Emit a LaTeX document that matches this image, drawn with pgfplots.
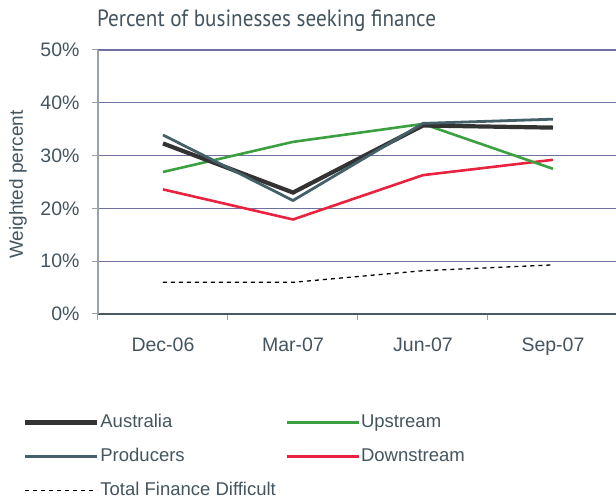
\documentclass[border=0pt]{standalone}
\usepackage{pgfplots}
\pgfplotsset{compat=1.18}
\usepackage{fontspec}
\setmainfont{Liberation Sans}
\newfontfamily\titlefont[FakeStretch=0.9]{PT Sans}
\definecolor{txt}{HTML}{44555F}
\definecolor{gridc}{RGB}{112,112,160}
\definecolor{axc}{HTML}{9AA2A8}
\definecolor{axb}{HTML}{4A5A62}
\definecolor{aus}{HTML}{333333}
\definecolor{prod}{HTML}{46606A}
\definecolor{up}{HTML}{3AA040}
\definecolor{down}{HTML}{E8223F}
\begin{document}
\begin{tikzpicture}
\begin{axis}[
  at={(0,0)}, anchor=south west,
  scale only axis, width=520pt, height=264pt,
  xmin=-0.5, xmax=3.5, ymin=0, ymax=50,
  axis x line*=bottom, axis y line*=left,
  y axis line style={color=axc, line width=1.2pt},
  x axis line style={color=axb, line width=1.2pt},
  xtick={0,1,2,3},
  xticklabels={Dec-06,Mar-07,Jun-07,Sep-07},
  minor xtick={-0.5,0.5,1.5,2.5},
  major x tick style={draw=none},
  minor x tick style={color=axc, line width=1pt},
  tick align=outside,
  minor tick length=6pt,
  ytick={0,10,20,30,40,50},
  yticklabels={0\%,10\%,20\%,30\%,40\%,50\%},
  major y tick style={color=axc, line width=1pt},
  major tick length=6pt,
  ymajorgrids,
  grid style={color=gridc, line width=1.2pt},
  ticklabel style={font=\fontsize{19.5}{22}\selectfont, text=txt},
  xticklabel style={yshift=-14pt},
  yticklabel style={xshift=-9pt},
  ylabel={Weighted percent},
  ylabel style={font=\fontsize{19}{22}\selectfont, text=txt, at={(axis description cs:-0.154,0.49)}, anchor=center},
  title={\titlefont Percent of businesses seeking finance},
  title style={font=\fontsize{23.5}{26}\selectfont, text=txt, at={(axis description cs:-0.002,1.047)}, anchor=south west, inner sep=0pt},
  legend style={at={(axis description cs:-0.150,-0.367)}, anchor=north west, draw=none, fill=none,
    font=\fontsize{18.5}{20}\selectfont, text=txt, row sep=15pt,
    nodes={inner sep=1pt, text height=13pt, text depth=4pt},
    /tikz/every odd column/.append style={column sep=0pt}},
  legend columns=2,
  legend cell align=left,
  legend image code/.code={\draw[#1] (0pt,0pt) -- (72pt,0pt);},
  clip=false,
]
\addplot[black, line width=1.3pt, dash pattern=on 4pt off 4pt, forget plot] coordinates {(0,6.0) (1,6.0) (2,8.2) (3,9.3)};
\addplot[down, line width=2.6pt, forget plot] coordinates {(0,23.6) (1,17.9) (2,26.3) (3,29.2)};
\addplot[up, line width=2.6pt, forget plot] coordinates {(0,26.9) (1,32.6) (2,36.0) (3,27.5)};
\addplot[aus, line width=4.2pt, forget plot] coordinates {(0,32.3) (1,23.0) (2,35.7) (3,35.3)};
\addplot[prod, line width=2.8pt, forget plot] coordinates {(0,33.9) (1,21.5) (2,36.1) (3,36.9)};
\addlegendimage{aus, line width=4.2pt}
\addlegendentry{\makebox[184pt][l]{Australia}}
\addlegendimage{up, line width=2.6pt}
\addlegendentry{Upstream}
\addlegendimage{prod, line width=2.8pt}
\addlegendentry{\makebox[184pt][l]{Producers}}
\addlegendimage{down, line width=2.6pt}
\addlegendentry{Downstream}
\addlegendimage{black, line width=1.3pt, dash pattern=on 4pt off 4pt}
\addlegendentry{\makebox[184pt][l]{Total Finance Difficult}}
\end{axis}
\pgfresetboundingbox
\path (-98pt,-186pt) rectangle (518pt,314pt);
\end{tikzpicture}
\end{document}
